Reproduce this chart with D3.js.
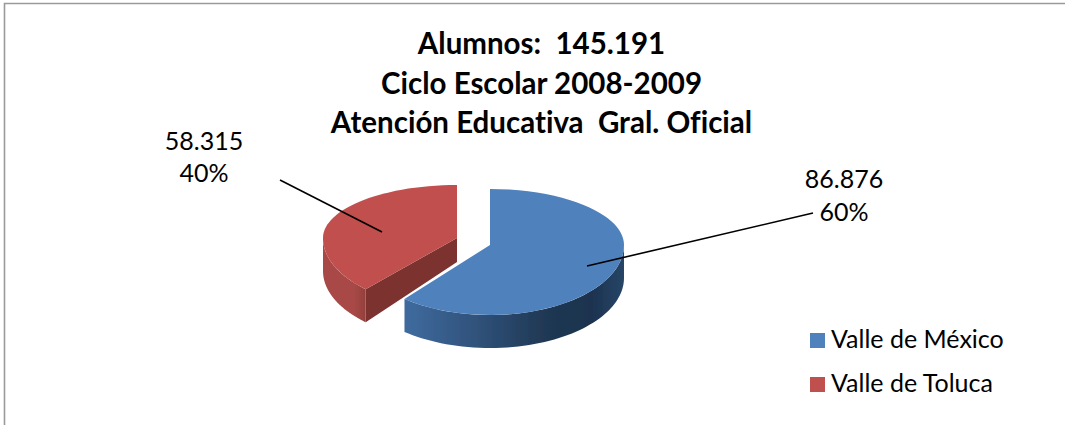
<!DOCTYPE html>
<html>
<head>
<meta charset="utf-8">
<script src="https://cdn.jsdelivr.net/npm/d3@7"></script>
<style>
  html, body { margin: 0; padding: 0; background: #fff; }
  svg { display: block; }
  text { font-family: Lato, "Noto Sans", sans-serif; fill: #000; white-space: pre; font-variant-ligatures: none; }
</style>
</head>
<body>
<script>
const categories = ["Valle de México", "Valle de Toluca"]
const values = [86876, 58315]
const colors = ["#4f81bd", "#c0504d"]
const titlePrefix = ["Alumnos:  ", "Ciclo Escolar 2008-2009", "Atención Educativa  Gral. Oficial"]

const width = 1065, height = 425
const svg = d3.select("body").append("svg").attr("width", width).attr("height", height)

const num = d3.formatLocale({ decimal: ",", thousands: ".", grouping: [3], currency: ["", ""] }).format(",d")
const pct = d3.format(".0%")
const total = d3.sum(values)
const color = d3.scaleOrdinal().domain(categories).range(colors)

// frame, the right and bottom sides are cut off in the reference
svg.append("path")
  .attr("d", "M4.5 425V3.5H1065")
  .attr("fill", "none").attr("stroke", "#9a9a9a").attr("stroke-width", 1.6)

// the pie is faked 3d: flattened ellipse, front half deeper than back half
const rx = 134, ryFront = 70, depth = 33, innerDepth = 24
const deg = Math.PI / 180
const centers = [
  { x: 490, y: 245, ryBack: 56, warp: 4.5 * deg },
  { x: 457, y: 238, ryBack: 53, warp: 8 * deg }
]

const arcs = d3.pie().value(d => d).sort(null)(values)

function rim(a, c, dy) {
  const b = a + c.warp * Math.sin(2 * a)
  const cos = Math.cos(b)
  return [c.x + rx * Math.sin(b), c.y - cos * (cos > 0 ? c.ryBack : ryFront) + dy]
}
function rimPoints(a0, a1, c, dy) {
  return d3.range(0, 61).map(i => rim(a0 + (a1 - a0) * i / 60, c, dy))
}
const line = d3.line()

const defs = svg.append("defs")
defs.append("filter").attr("id", "soft").append("feGaussianBlur").attr("stdDeviation", 0.7)

function wallGradient(id, x0, x1, stops) {
  const g = defs.append("linearGradient").attr("id", id)
    .attr("gradientUnits", "userSpaceOnUse")
    .attr("x1", x0).attr("x2", x1).attr("y1", 0).attr("y2", 0)
  stops.forEach(s => g.append("stop").attr("offset", s[0]).attr("stop-color", s[1]))
}
wallGradient("wallBlue", 405, 625, [[0, "#3f6b9e"], [0.35, "#2f5078"], [0.65, "#1f3752"], [0.85, "#1c3350"], [1, "#274668"]])
wallGradient("wallRed", 321, 368, [[0, "#a94a47"], [0.7, "#a84946"], [1, "#8f3d3b"]])

const pie3d = svg.append("g").attr("filter", "url(#soft)")

// red slice goes first, blue overlaps it
const order = [1, 0]
order.forEach(i => {
  const d = arcs[i], c = centers[i]
  const g = pie3d.append("g").attr("class", "slice")

  if (i === 1) {
    // cut face of the exploded slice
    const p = rim(d.startAngle, c, 0)
    const q = rim(d.startAngle, c, depth)
    g.append("path")
      .attr("d", line([[c.x, c.y], p, q, [c.x, c.y + innerDepth]]) + "Z")
      .attr("fill", "#7b302e")
  }

  // outer wall, only the part turned to the viewer
  const w0 = Math.max(d.startAngle, Math.PI / 2)
  const w1 = Math.min(d.endAngle, Math.PI * 1.5)
  g.append("path")
    .attr("d", line(rimPoints(w0, w1, c, 0).concat(rimPoints(w1, w0, c, depth))) + "Z")
    .attr("fill", i === 0 ? "url(#wallBlue)" : "url(#wallRed)")

  // top face
  g.append("path")
    .attr("d", line([[c.x, c.y]].concat(rimPoints(d.startAngle, d.endAngle, c, 0))) + "Z")
    .attr("fill", color(categories[i]))
})

// leader lines and data labels
const leaders = [[[587, 266], [813, 213]], [[382, 232], [280, 180]]]
const labelPos = [{ x: 844, y: 188, y2: 221 }, { x: 204, y: 150, y2: 182 }]

svg.selectAll("path.leader").data(leaders).join("path")
  .attr("class", "leader")
  .attr("d", d => line(d))
  .attr("stroke", "#000").attr("stroke-width", 1.6).attr("fill", "none")

values.forEach((v, i) => {
  const p = labelPos[i]
  svg.append("text").attr("x", p.x).attr("y", p.y).attr("text-anchor", "middle")
    .attr("font-size", 25).text(num(v))
  svg.append("text").attr("x", p.x).attr("y", p.y2).attr("text-anchor", "middle")
    .attr("font-size", 25).text(pct(v / total))
})

// title
const titleLines = [titlePrefix[0] + num(total), titlePrefix[1], titlePrefix[2]]
const titleY = d3.scalePoint().domain(d3.range(3)).range([54, 133])
svg.selectAll("text.title").data(titleLines).join("text")
  .attr("class", "title")
  .attr("x", 541.5)
  .attr("y", (d, i) => titleY(i))
  .attr("text-anchor", "middle")
  .attr("font-size", 29.5).attr("font-weight", 700)
  .text(d => d)

// legend
const legendY = d3.scalePoint().domain(categories).range([340.5, 384.5])
const legend = svg.selectAll("g.legend").data(categories).join("g")
  .attr("class", "legend")
  .attr("transform", d => "translate(810," + legendY(d) + ")")
legend.append("rect").attr("y", -7.5).attr("width", 15).attr("height", 15).attr("fill", d => color(d))
legend.append("text").attr("x", 21).attr("y", 7.5).attr("font-size", 25).text(d => d)
</script>
</body>
</html>
